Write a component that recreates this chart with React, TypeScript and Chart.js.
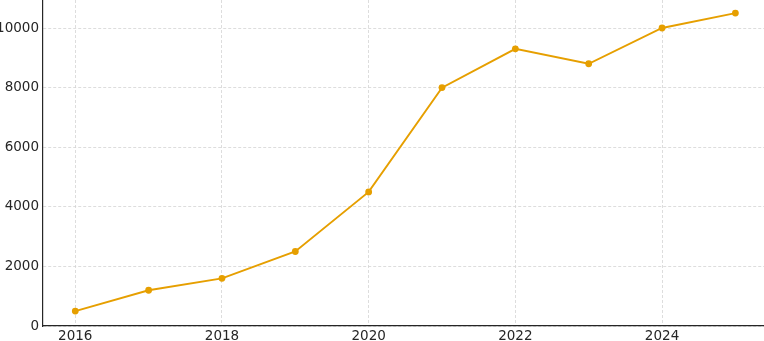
import React, { useEffect, useRef } from "react";
import { Chart, registerables } from "chart.js";

Chart.register(...registerables);

const years = [2016, 2017, 2018, 2019, 2020, 2021, 2022, 2023, 2024, 2025];
const values = [500, 1200, 1600, 2500, 4500, 8000, 9300, 8800, 10000, 10500];
const xTicks = [2016, 2018, 2020, 2022, 2024];
const yTicks = [0, 2000, 4000, 6000, 8000, 10000];

const LINE = "#e69f00";
const FONT = "'DejaVu Sans', sans-serif";

export default function App() {
  const ref = useRef<HTMLCanvasElement | null>(null);
  useEffect(() => {
    if (!ref.current) return;
    const chart = new Chart(ref.current, {
      type: "line",
      data: {
        datasets: [
          {
            data: years.map((y, i) => ({ x: y, y: values[i] })),
            borderColor: LINE,
            backgroundColor: LINE,
            borderWidth: 1.9,
            pointRadius: 3.4,
            pointBorderWidth: 0,
            pointBackgroundColor: LINE,
            tension: 0,
          },
        ],
      },
      options: {
        animation: false,
        responsive: false,
        maintainAspectRatio: false,
        layout: { padding: 0, autoPadding: false },
        plugins: { legend: { display: false }, tooltip: { enabled: false } },
        scales: {
          x: {
            type: "linear",
            min: 2015.56,
            max: 2025.39,
            afterBuildTicks: (s: any) => {
              s.ticks = xTicks.map((v) => ({ value: v }));
            },
            afterFit: (s: any) => {
              s.height = 15;
              s.paddingLeft = 0;
              s.paddingRight = 0;
              s.paddingTop = 0;
              s.paddingBottom = 0;
            },
            ticks: {
              autoSkip: false,
              maxRotation: 0,
              padding: 2,
              color: "#262626",
              font: { family: FONT, size: 13.5 },
              callback: (v: any) => String(v),
            },
            grid: { color: "#d4d4d4", lineWidth: 0.8, drawTicks: false },
            border: { display: true, color: "#262626", width: 1.2, dash: [3, 2] },
          },
          y: {
            type: "linear",
            min: 0,
            max: 10940,
            afterBuildTicks: (s: any) => {
              s.ticks = yTicks.map((v) => ({ value: v }));
            },
            afterFit: (s: any) => {
              s.width = 43;
              s.paddingLeft = 0;
              s.paddingRight = 0;
              s.paddingTop = 0;
              s.paddingBottom = 0;
            },
            ticks: {
              padding: 4,
              color: "#262626",
              font: { family: FONT, size: 13.5 },
              callback: (v: any) => String(v),
            },
            grid: { color: "#d4d4d4", lineWidth: 0.8, drawTicks: false },
            border: { display: true, color: "#262626", width: 1.2, dash: [3, 2] },
          },
        },
      },
    });
    return () => chart.destroy();
  }, []);
  return (
    <div style={{ position: "absolute", left: 0, top: 0, width: 764, height: 341, background: "#fff" }}>
      <canvas ref={ref} width={764} height={341} />
    </div>
  );
}
